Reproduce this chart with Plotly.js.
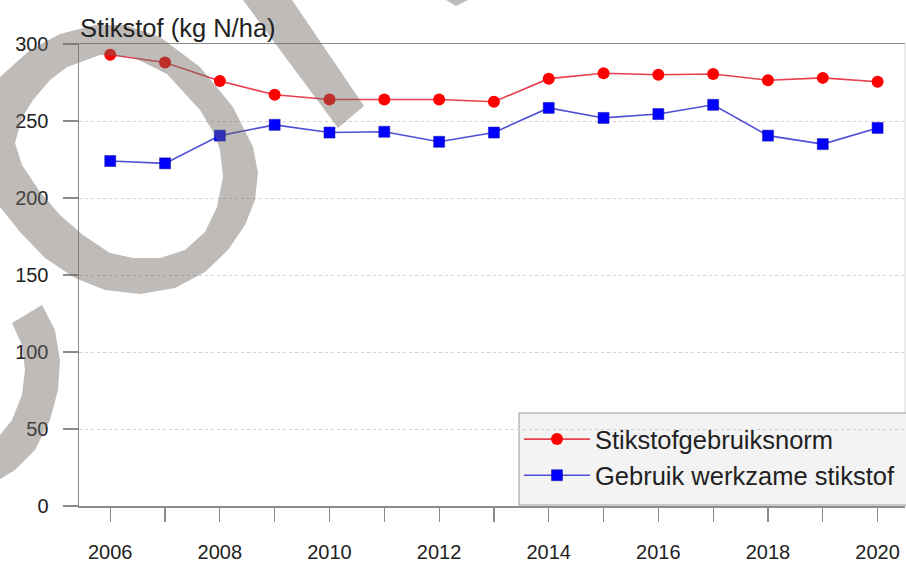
<!DOCTYPE html>
<html><head><meta charset="utf-8">
<script src="https://cdn.plot.ly/plotly-3.0.1.min.js"></script>
<style>html,body{margin:0;padding:0;background:#fff;overflow:hidden}#chart{width:906px;height:563px}</style>
</head><body><div id="chart"></div>
<script>
// ---- data ----
const years = [2006,2007,2008,2009,2010,2011,2012,2013,2014,2015,2016,2017,2018,2019,2020];
const normValues = [293,288,276,267,264,264,264,262.5,277.5,281,280,280.5,276.5,278,275.5];
const useValues = [224,222.5,240.5,247.5,242.5,243,236.5,242.5,258.5,252,254.5,260.5,240.5,235,245.5];
const seriesNames = ['Stikstofgebruiksnorm','Gebruik werkzame stikstof'];
const yTickVals = [0,50,100,150,200,250,300];
const xTickVals = [2006,2008,2010,2012,2014,2016,2018,2020];
const chartTitle = 'Stikstof (kg N/ha)';

// ---- layout helpers ----
const W = 906, H = 563, M = {l:79, r:1, t:44, b:57};
const pw = W - M.l - M.r, ph = H - M.t - M.b;
function toPaper(p){ return [(p[0]-M.l)/pw, (H-M.b-p[1])/ph]; }
function poly(pts){
  return 'M' + pts.map(p => { const q = toPaper(p); return q[0].toFixed(4)+','+q[1].toFixed(4); }).join('L') + 'Z';
}
// watermark outlines (pixel space)
const ringOuter = [[-20,150],[0,77],[30,50],[60,34],[95,25],[125,25],[160,37],[200,67],[233,107],[253,147],[258,173],[255,200],[245,225],[228,250],[205,272],[175,288],[140,294],[105,290],[75,278],[45,258],[20,232],[0,207]];
const ringInner = [[15,143],[22,118],[33,100],[50,80],[67,67],[100,55],[133,57],[167,74],[200,110],[215,135],[220,150],[223,177],[217,207],[205,232],[185,250],[160,258],[133,258],[110,253],[83,235],[60,215],[40,192],[22,165]];
const arcC = [[12,323],[42,305],[55,330],[60,360],[58,390],[50,420],[35,450],[15,470],[-10,485],[-10,440],[0,435],[12,420],[22,395],[25,370],[22,345]];
const band = [[243,0],[292,0],[364,106],[338,128]];
const blip = [[446,0],[468,0],[456,6]];
const wmColor = 'rgba(110,104,97,0.45)';
const wm = (path, rule) => ({type:'path', xref:'paper', yref:'paper', path, fillcolor:wmColor, line:{width:0}, layer:'above', fillrule: rule||'nonzero'});

const font = 'Liberation Sans, Arial, Helvetica, sans-serif';
const axisGray = '#8c8c8c';

const traces = [
  {x: years, y: normValues, name: seriesNames[0], type:'scatter', mode:'lines+markers',
   line:{color:'#e8404f', width:1.6}, marker:{symbol:'circle', size:12, color:'#ff0000', line:{width:0}}},
  {x: years, y: useValues, name: seriesNames[1], type:'scatter', mode:'lines+markers',
   line:{color:'#4f4fd6', width:1.6}, marker:{symbol:'square', size:11, color:'#0000ff', line:{width:0.5, color:'#1010a0'}}}
];

const boxL = toPaper([519,413]), boxR = toPaper([915,505]);

const layout = {
  width: W, height: H,
  margin: {l:M.l, r:M.r, t:M.t, b:M.b, autoexpand:false},
  paper_bgcolor:'#ffffff', plot_bgcolor:'#ffffff',
  font: {family: font, color:'#222222', size:20},
  title: {text: chartTitle, x: 80/W, xref:'container', xanchor:'left', y: 1-28/H, yref:'container', yanchor:'middle',
          font:{family:font, size:25.5, color:'#222222'}},
  showlegend: true,
  legend: {x:(519-M.l)/pw, y:(H-M.b-416)/ph, xanchor:'left', yanchor:'top', bgcolor:'rgba(0,0,0,0)', borderwidth:0,
           font:{family:font, size:25.5, color:'#222222'}, itemwidth:66, tracegroupgap:0},
  xaxis: {range:[2005.43, 2020.5], tickmode:'array', tickvals:xTickVals, ticktext:xTickVals.map(String),
          ticks:'outside', ticklen:14, tickwidth:1.2, tickcolor:axisGray, ticklabelstandoff:13,
          minor:{dtick:1, tick0:2006, ticks:'outside', ticklen:14, tickwidth:1.2, tickcolor:axisGray, showgrid:false},
          showgrid:false, zeroline:false, showline:true, linecolor:axisGray, linewidth:1.5, mirror:true,
          tickfont:{family:font, size:20, color:'#222222'}},
  yaxis: {range:[0,300], tickmode:'array', tickvals:yTickVals, ticks:'outside', ticklen:15, tickwidth:1.2, tickcolor:axisGray,
          ticklabelstandoff:10, showgrid:true, gridcolor:'#cfcfcf', griddash:'dot', gridwidth:1,
          zeroline:false, showline:true, linecolor:axisGray, linewidth:1.5,
          tickfont:{family:font, size:20, color:'#222222'}},
  shapes: [
    {type:'line', xref:'paper', yref:'paper', x0:1, x1:1, y0:0, y1:1, line:{color:'#d8d8d8', width:1}, layer:'below'},
    {type:'rect', xref:'paper', yref:'paper', x0:boxL[0], y0:boxL[1], x1:boxR[0], y1:boxR[1],
     fillcolor:'#f3f3f3', line:{color:'#9a9a9a', width:1}, layer:'between'},
    wm(poly(ringOuter) + poly(ringInner), 'evenodd'),
    wm(poly(arcC)),
    wm(poly(band)),
    wm(poly(blip))
  ]
};

Plotly.newPlot('chart', traces, layout, {staticPlot:true, displayModeBar:false});
</script>
</body></html>
